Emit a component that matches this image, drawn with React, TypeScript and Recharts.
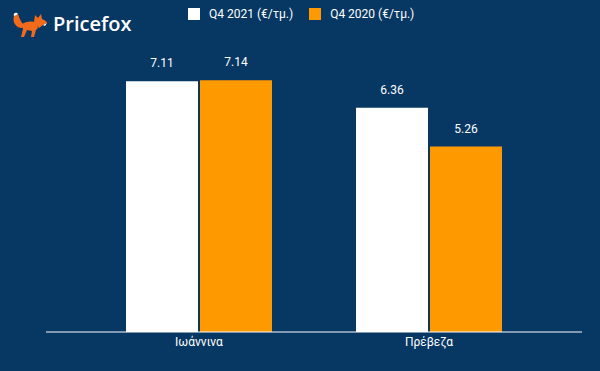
import React from "react";
import { BarChart, Bar, XAxis, YAxis, LabelList } from "recharts";

const categories = ["Ιωάννινα", "Πρέβεζα"];
const q42021 = [7.11, 6.36];
const q42020 = [7.14, 5.26];
const seriesNames = ["Q4 2021 (€/τμ.)", "Q4 2020 (€/τμ.)"];
const seriesColors = ["#ffffff", "#ff9900"];

const data = categories.map((c, i) => ({ name: c, a: q42021[i], b: q42020[i] }));

const BG = "#073763";
const FONT = "Roboto, 'Liberation Sans', Arial, sans-serif";

const Logo = () => (
  <div style={{ position: "absolute", left: 12, top: 10, display: "flex", alignItems: "center" }}>
    <svg width="36" height="28" viewBox="0 0 36 28">
      <path d="M2 6 C0 12 4 18 10 18 L14 16 C10 14 8 10 6 4 Z" fill="#f26a1b" />
      <path d="M2 6 C1 4 3 2 5 3 L6 4 C4 5 3 6 2 6 Z" fill="#ffffff" />
      <path d="M10 14 C14 11 20 11 24 12 L26 18 L24 20 L22 27 L19 27 L20 21 L15 20 L12 27 L9 27 L11 19 Z" fill="#f26a1b" />
      <path d="M22 12 L23 5 L26 8 L29 4 L30 9 C33 10 35 12 35 13 L31 15 L27 18 Z" fill="#f26a1b" />
      <path d="M31 15 L35 13 L33 16 Z" fill="#ffffff" />
    </svg>
    <span style={{ color: "#ffffff", fontFamily: "'Open Sans', sans-serif", fontWeight: 600, fontSize: 20, marginLeft: 5, lineHeight: "28px" }}>
      Pricefox
    </span>
  </div>
);

const LegendBox = () => (
  <div style={{ position: "absolute", left: 188, top: 7, display: "flex", alignItems: "center", fontFamily: FONT, fontSize: 12, color: "#ffffff" }}>
    {seriesNames.map((n, i) => (
      <div key={n} style={{ display: "flex", alignItems: "center", marginRight: i === 0 ? 16 : 0 }}>
        <div style={{ width: 12, height: 12, background: seriesColors[i], marginRight: 9 }} />
        <span>{n}</span>
      </div>
    ))}
  </div>
);

export default function App() {
  return (
    <div style={{ position: "absolute", left: 0, top: 0, width: 600, height: 371, background: BG, overflow: "hidden" }}>
      <BarChart
        width={600}
        height={371}
        data={data}
        margin={{ top: 50, right: 18, bottom: 9, left: 46 }}
        barGap={2}
        barSize={72}
      >
        <YAxis hide domain={[0, 8]} width={0} />
        <XAxis
          dataKey="name"
          height={30}
          padding={{ left: 38, right: 38 }}
          axisLine={{ stroke: "#ffffff", strokeWidth: 1 }}
          tickLine={false}
          tickSize={0}
          tickMargin={5}
          tick={{ fill: "#ffffff", fontSize: 12, fontFamily: FONT }}
        />
        <Bar dataKey="a" fill={seriesColors[0]} isAnimationActive={false}>
          <LabelList dataKey="a" position="top" offset={14} fill="#ffffff" fontSize={12} fontFamily={FONT} />
        </Bar>
        <Bar dataKey="b" fill={seriesColors[1]} isAnimationActive={false}>
          <LabelList dataKey="b" position="top" offset={14} fill="#ffffff" fontSize={12} fontFamily={FONT} />
        </Bar>
      </BarChart>
      <Logo />
      <LegendBox />
    </div>
  );
}
